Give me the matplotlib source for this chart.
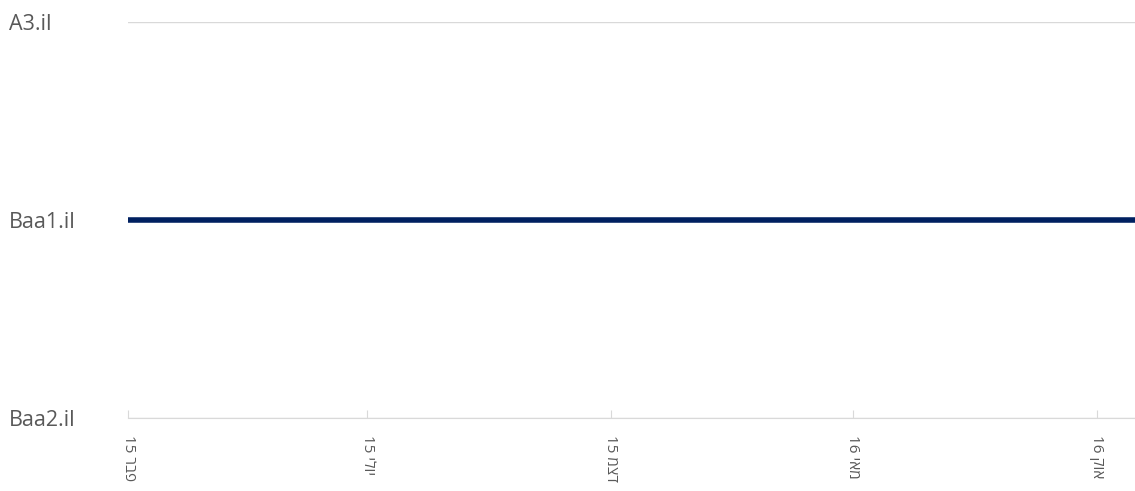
import pandas as pd
import numpy as np
import matplotlib.pyplot as plt
import matplotlib.dates as mdates

# rating scale (bottom to top) and the rating series
scale = ['Baa2.il', 'Baa1.il', 'A3.il']
dates = pd.to_datetime(['2015-02-01', '2015-04-01', '2015-06-01', '2015-08-01', '2015-10-01',
                        '2015-12-01', '2016-02-01', '2016-04-01', '2016-06-01', '2016-08-01',
                        '2016-10-01', '2016-10-25'])
ratings = ['Baa1.il'] * len(dates)

tick_dates = pd.to_datetime(['2015-02-01', '2015-07-01', '2015-12-01', '2016-05-01', '2016-10-01'])
tick_labels = ['פבר 15', 'יולי 15', 'דצמ 15', 'מאי 16', 'אוק 16']


def visual(s):
    # matplotlib has no bidi: put hebrew word in visual order, year on the left
    word, year = s.split(' ')
    return year + ' ' + word[::-1]


plt.rcParams['font.family'] = ['Open Sans', 'DejaVu Sans']

fig = plt.figure(figsize=(11.35, 4.91), dpi=100)
ax = fig.add_axes([128 / 1135, 1 - 418 / 491, 1 - 128 / 1135, (418 - 22) / 491])

y = [scale.index(r) for r in ratings]
ax.plot(dates, y, color='#002060', lw=4, solid_capstyle='butt', zorder=3)

ax.set_ylim(0, 2)
ax.set_xlim(dates[0], dates[-1])
ax.set_yticks(range(len(scale)))
ax.set_yticklabels(scale, ha='left', va='center_baseline', color='#595959', fontsize=15.5)
ax.tick_params(axis='y', length=0, pad=86)
ax.yaxis.grid(True, color='#d9d9d9', lw=1)
ax.set_axisbelow(True)

ax.set_xticks(tick_dates)
ax.set_xticklabels([visual(t) for t in tick_labels], rotation=270, color='#595959', fontsize=11,
                   family=['Open Sans', 'DejaVu Sans'])
ax.tick_params(axis='x', direction='in', length=6, color='#d9d9d9', pad=12)

for s in ['top', 'right', 'left']:
    ax.spines[s].set_visible(False)
ax.spines['bottom'].set_color('#d9d9d9')

fig.savefig('out.png', dpi=100)
